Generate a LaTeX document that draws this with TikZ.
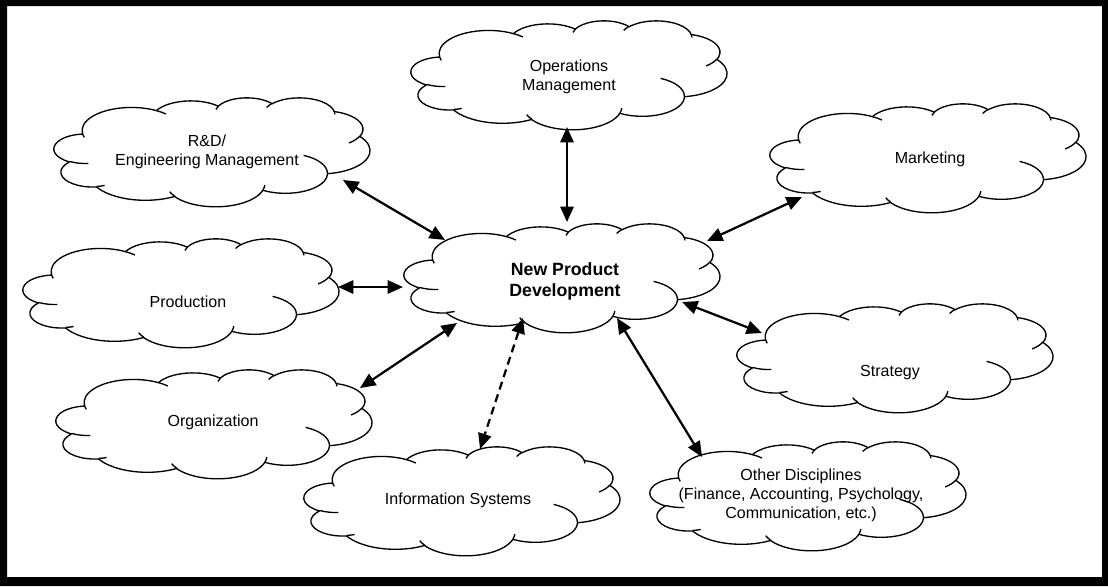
\documentclass[tikz,border=0pt]{standalone}
\usepackage{fontspec}
\setmainfont{Liberation Sans}
\usetikzlibrary{arrows.meta,calc}

% One arc of a cloud outline: x radius, y radius, start angle and sweep.
% The angles point at the ellipse point (not the parametric angle).
\newcommand\cloudarc[4]{%
  \pgfextra{%
    \pgfmathsetmacro\cloudArcS{atan2(#1*sin(#3),#2*cos(#3))}%
    \pgfmathsetmacro\cloudArcE{atan2(#1*sin(#3+#4),#2*cos(#3+#4))}%
    \pgfmathsetmacro\cloudArcD{mod(\cloudArcE-\cloudArcS+720,360)}%
  }%
  arc[start angle=\cloudArcS, delta angle=\cloudArcD, x radius=#1, y radius=#2]}

% Cloud outline in a box: left, top, width, height (picture units)
\newcommand\cloudshape[4]{%
  \pgfmathsetmacro\cloudU{#3/432*0.025}%
  \pgfmathsetmacro\cloudV{-#4/432*0.025}%
  \begin{scope}[shift={(#1,#2)}, x=\cloudU cm, y=\cloudV cm]
    \filldraw[cloudline] (39.00,143.70)
      \cloudarc{67.53}{91.90}{-190.4875}{123.7805}
      \cloudarc{53.33}{72.67}{-144.1024}{89.9452}
      \cloudarc{43.65}{59.45}{-145.8079}{99.7230}
      \cloudarc{48.57}{65.95}{-130.9861}{117.2417}
      \cloudarc{53.33}{72.73}{-78.7089}{109.0269}
      \cloudarc{67.75}{92.20}{-46.2673}{130.2690}
      \cloudarc{57.85}{78.67}{0.6250}{114.0333}
      \cloudarc{67.52}{92.15}{22.4516}{115.1726}
      \cloudarc{77.20}{105.43}{66.2426}{75.7110}
      \cloudarc{43.60}{59.18}{-274.9421}{146.7356}
      \cloudarc{43.45}{59.45}{-246.8285}{152.5189}
      -- cycle;
    \draw[cloudline]
      (46.93,261.77) \cloudarc{43.45}{59.45}{86.7420}{26.4295}
      (69.28,348.99) \cloudarc{43.60}{59.18}{73.6105}{11.4475}
      (164.78,390.90) \cloudarc{67.52}{92.15}{137.6242}{14.0811}
      (288.27,347.51) \cloudarc{67.52}{92.15}{6.4533}{15.9984}
      (341.29,229.54) \cloudarc{57.85}{78.67}{-70.2924}{70.9174}
      (417.98,153.54) \cloudarc{53.33}{72.73}{30.3180}{27.7515}
      (383.24,54.26) \cloudarc{48.57}{65.95}{-13.7443}{14.8589}
      (290.78,39.52) \cloudarc{48.57}{65.95}{-149.1815}{18.1954}
      (221.41,47.20) \cloudarc{43.65}{59.45}{-163.4943}{17.8492}
      (140.00,51.92) \cloudarc{67.53}{91.90}{-66.7070}{12.3194}
      (41.27,157.89) \cloudarc{67.53}{91.90}{157.6544}{11.8582};
  \end{scope}}

% A cloud: [text style] name, centre x, centre y, text x, text y, text
\newcommand\cloudat[7][]{%
  \coordinate (#2) at (#3,#4);
  \cloudshape{#3-158}{#4-54.5}{316}{109}
  \node[cloudtext,#1] (#2-label) at (#5,#6) {#7};}

\begin{document}
\begin{tikzpicture}[x=0.025cm, y=-0.025cm,
  cloudline/.style={line width=0.95pt, draw=black, fill=white, line join=round},
  cloudtext/.style={align=center, inner sep=0pt,
    font=\fontsize{11.4}{13.4}\selectfont},
  hubtext/.style={font=\bfseries\fontsize{12.6}{15}\selectfont},
  biarrow/.style={{Triangle[length=11pt,width=9.5pt]}-{Triangle[length=11pt,width=9.5pt]},
    line width=1.6pt},
  dashedlink/.style={dash pattern=on 5.7pt off 3.6pt}]

\useasboundingbox (0,0) rectangle (1108,586);
% heavy frame round the whole figure
\fill[even odd rule] (0,0) rectangle (1108,586) (7,6) rectangle (1102,577);

\cloudat{rd}{212}{152}{207}{152}{R\&D/\\Engineering Management}
\cloudat{ops}{569}{75}{569}{77}{Operations\\Management}
\cloudat{mkt}{928}{158}{930}{159}{Marketing}
\cloudat[hubtext]{npd}{562}{278}{565}{281}{New Product\\Development}
\cloudat{prod}{181}{293}{188}{302}{Production}
\cloudat{strat}{895}{358}{890}{373}{Strategy}
\cloudat{org}{214}{424}{213}{422}{Organization}
\cloudat{info}{462}{501}{458}{500}{Information Systems}
\cloudat{other}{808}{496}{801}{495}{Other Disciplines\\(Finance, Accounting, Psychology,\\Communication, etc.)}

\draw[biarrow] ($(rd)+(131,28)$) -- ($(npd)+(-117,-38)$);
\draw[biarrow] ($(ops)+(-2,52)$) -- ($(npd)+(5,-56)$);
\draw[biarrow] ($(npd)+(145,-37)$) -- ($(mkt)+(-126,39)$);
\draw[biarrow] ($(prod)+(157,-6)$) -- ($(npd)+(-159,9)$);
\draw[biarrow] ($(npd)+(120,24)$) -- ($(strat)+(-133,-25)$);
\draw[biarrow] ($(npd)+(-105,45)$) -- ($(org)+(146,-36)$);
\draw[biarrow,dashedlink] ($(npd)+(-39,40)$) -- ($(info)+(18,-52)$);
\draw[biarrow] ($(npd)+(55,40)$) -- ($(other)+(-106,-39)$);
\end{tikzpicture}
\end{document}
